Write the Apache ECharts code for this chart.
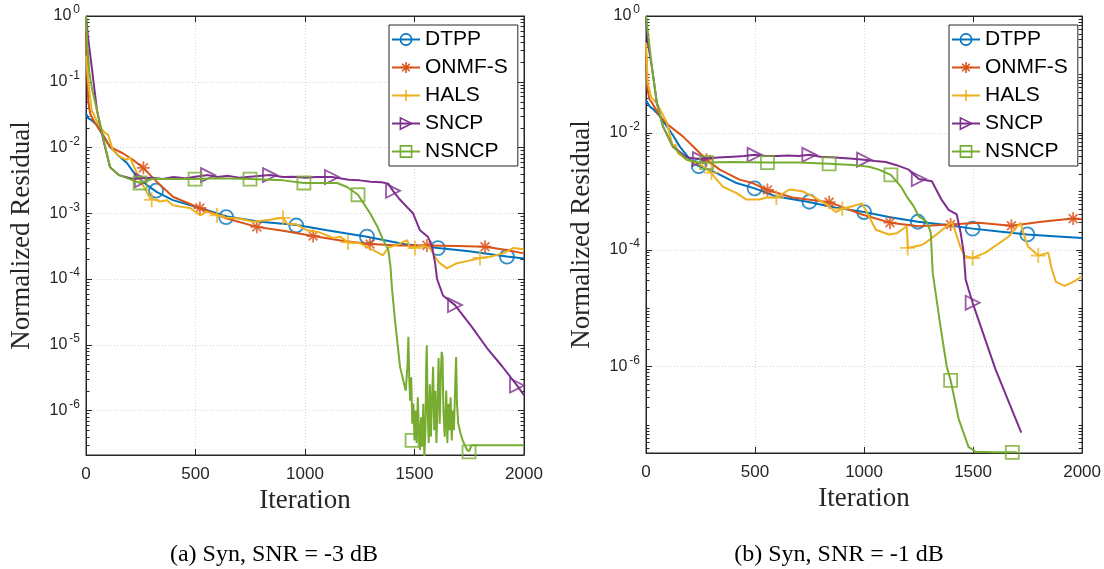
<!DOCTYPE html>
<html><head><meta charset="utf-8">
<script src="https://cdn.jsdelivr.net/npm/echarts/dist/echarts.min.js"></script>
<style>html,body{margin:0;padding:0;background:#fff}#c{width:1104px;height:569px}</style>
</head><body><div id="c"></div>
<script>
// ---------- DATA (iteration, normalized residual) ----------
const names = ['DTPP', 'ONMF-S', 'HALS', 'SNCP', 'NSNCP'];
const xTicks = [0, 500, 1000, 1500, 2000];
const yMajorA = [1, 1e-1, 1e-2, 1e-3, 1e-4, 1e-5, 1e-6];
const yMajorB = [1, 1e-2, 1e-4, 1e-6];
const captions = ['(a) Syn, SNR = -3 dB', '(b) Syn, SNR = -1 dB'];

// Panel (a)
const dtppA = [[0,0.033],[10,0.028],[25,0.026],[50,0.022],[80,0.0151],[110,0.0102],[150,0.0074],[187,0.0058],[233,0.00355],[278,0.00269],[324,0.00209],[397,0.00158],[520,0.0012],[644,0.00089],[794,0.00074],[963,0.00066],[1100,0.00055],[1283,0.00044],[1450,0.00034],[1607,0.000295],[1750,0.000263],[1922,0.000219],[2000,0.000204]];
const dtppAMk = [[320,0.0022],[640,0.00087],[960,0.00065],[1283,0.00044],[1607,0.000295],[1922,0.000219]];
const onmfA = [[0,0.6],[5,0.16],[10,0.05],[20,0.032],[40,0.024],[64,0.018],[110,0.0102],[170,0.0081],[220,0.0063],[262,0.0049],[323,0.003],[397,0.00178],[518,0.0012],[643,0.00083],[780,0.00062],[900,0.00054],[1037,0.00045],[1170,0.00038],[1297,0.00034],[1430,0.000324],[1557,0.000324],[1700,0.000316],[1822,0.00031],[1920,0.000275],[2000,0.000245]];
const onmfAMk = [[262,0.0049],[520,0.0012],[780,0.00062],[1037,0.00045],[1297,0.00034],[1557,0.000324],[1822,0.00031]];
const halsA = [[0,0.25],[10,0.1],[26,0.037],[50,0.025],[64,0.0204],[87,0.0166],[100,0.0158],[123,0.0091],[155,0.0072],[187,0.0065],[200,0.0071],[215,0.0055],[247,0.00316],[278,0.00209],[292,0.0017],[338,0.00151],[370,0.00158],[397,0.00132],[430,0.00126],[475,0.0012],[521,0.00093],[550,0.00105],[580,0.00098],[620,0.00089],[644,0.00085],[700,0.00083],[763,0.00074],[830,0.00079],[900,0.00085],[918,0.00069],[960,0.00068],[1009,0.00055],[1060,0.00052],[1128,0.00042],[1160,0.00044],[1196,0.00036],[1250,0.00035],[1311,0.000275],[1356,0.000229],[1380,0.0003],[1420,0.00033],[1466,0.00039],[1480,0.000295],[1540,0.000316],[1571,0.0003],[1600,0.0002],[1616,0.000174],[1648,0.000145],[1694,0.000174],[1750,0.00019],[1799,0.000209],[1850,0.000219],[1904,0.000245],[1950,0.000295],[2000,0.000282]];
const halsAMk = [[300,0.0016],[598,0.00093],[900,0.00085],[1196,0.00036],[1502,0.000295],[1799,0.000209]];
const sncpA = [[0,1],[10,0.45],[25,0.18],[50,0.037],[80,0.0126],[110,0.005],[150,0.0038],[215,0.00331],[255,0.00339],[300,0.00347],[350,0.00331],[400,0.00355],[450,0.00339],[500,0.0036],[557,0.0038],[600,0.00355],[650,0.0037],[700,0.00347],[750,0.0036],[840,0.0038],[900,0.00355],[950,0.0036],[1000,0.00347],[1050,0.00355],[1123,0.00355],[1200,0.00324],[1250,0.00316],[1300,0.00302],[1350,0.00295],[1380,0.00282],[1402,0.00219],[1430,0.00166],[1470,0.0012],[1493,0.001],[1525,0.00055],[1561,0.00044],[1580,0.000316],[1594,0.000174],[1603,1e-4],[1630,5.6e-5],[1685,4.0e-5],[1760,1.9e-5],[1831,8.9e-6],[1900,4.7e-6],[1968,2.4e-6],[2000,1.7e-6]];
const sncpAMk = [[255,0.00316],[557,0.0038],[840,0.0038],[1123,0.00355],[1402,0.00219],[1685,4.0e-5],[1968,2.4e-6]];
const nsncpA = [[0,1],[5,0.4],[15,0.14],[27,0.079],[50,0.037],[75,0.0158],[110,0.005],[150,0.0038],[215,0.00316],[247,0.00288],[300,0.00331],[400,0.00331],[498,0.00331],[600,0.00339],[749,0.00331],[900,0.00316],[995,0.00288],[1100,0.00288],[1146,0.00288],[1192,0.00251],[1242,0.00191],[1297,0.001],[1330,0.00063],[1357,0.00039],[1380,0.000282],[1390,0.000158],[1397,7.4e-5],[1410,2.5e-5],[1434,4.6e-6],[1460,2.0e-6],[1468,5.0e-6],[1472,1.32e-5],[1476,3.2e-6],[1480,1.41e-6],[1485,3.2e-6],[1490,6.3e-7],[1495,1.26e-6],[1500,3.5e-7],[1505,1e-6],[1510,3.2e-7],[1515,1.58e-6],[1520,5.0e-7],[1525,2.5e-7],[1530,7.9e-7],[1535,2.8e-7],[1540,1.26e-6],[1545,1.95e-7],[1550,5.0e-7],[1553,4.0e-6],[1556,9.8e-6],[1560,1e-6],[1565,3.2e-7],[1570,2.5e-6],[1575,4.0e-7],[1580,1.58e-6],[1585,4.6e-6],[1590,5.0e-7],[1595,2.0e-6],[1600,3.2e-7],[1605,1.26e-6],[1610,6.3e-6],[1615,6.3e-7],[1620,3.2e-6],[1624,7.8e-6],[1628,6.5e-6],[1632,1e-6],[1638,4.0e-7],[1645,2.0e-6],[1650,3.2e-7],[1655,1.26e-6],[1660,5.0e-7],[1665,1.58e-6],[1670,3.5e-7],[1675,1e-6],[1680,5.0e-7],[1686,2.5e-6],[1690,6.5e-6],[1694,1.26e-6],[1700,6.3e-7],[1710,4.5e-7],[1720,3.5e-7],[1740,2.5e-7],[1750,2.4e-7],[1760,2.95e-7],[2000,2.95e-7]];
const nsncpAMk = [[247,0.00288],[498,0.00331],[749,0.00331],[995,0.00288],[1242,0.00191],[1489,3.5e-7],[1749,2.35e-7]];

// Panel (b)
const dtppB = [[0,0.036],[18,0.028],[30,0.026],[60,0.02],[96,0.0129],[125,0.0089],[155,0.0058],[190,0.004],[215,0.00309],[242,0.00269],[280,0.0024],[324,0.00204],[415,0.00138],[498,0.00112],[598,0.00081],[740,0.00066],[872,0.00052],[1000,0.00044],[1120,0.00036],[1247,0.0003],[1380,0.000263],[1498,0.000229],[1620,0.000204],[1749,0.000182],[1870,0.00017],[2000,0.000158]];
const dtppBMk = [[242,0.00269],[498,0.00112],[749,0.00066],[1000,0.00044],[1247,0.0003],[1498,0.000229],[1749,0.000182]];
const onmfB = [[0,0.25],[5,0.063],[15,0.038],[30,0.0316],[64,0.019],[110,0.0129],[169,0.0087],[215,0.0059],[278,0.00347],[338,0.00234],[429,0.00158],[489,0.00138],[557,0.00105],[671,0.00078],[840,0.00065],[991,0.0004],[1119,0.00029],[1251,0.000251],[1397,0.000269],[1525,0.000288],[1676,0.000257],[1813,0.0003],[1959,0.00034],[2000,0.00033]];
const onmfBMk = [[278,0.00347],[557,0.00105],[840,0.00065],[1119,0.00029],[1397,0.000269],[1676,0.000257],[1959,0.00034]];
const halsB = [[0,0.35],[8,0.071],[25,0.04],[50,0.032],[96,0.0148],[123,0.0058],[135,0.0063],[146,0.0045],[187,0.00347],[260,0.00269],[292,0.00219],[301,0.00204],[352,0.0012],[415,0.00093],[461,0.00072],[521,0.00072],[552,0.00078],[598,0.00078],[658,0.00107],[717,0.001],[760,0.00083],[826,0.0006],[870,0.00044],[900,0.0005],[950,0.00056],[991,0.00062],[1023,0.00037],[1054,0.000219],[1114,0.000182],[1150,0.00019],[1196,0.000251],[1201,0.000107],[1265,0.00012],[1283,0.000132],[1342,0.000195],[1402,0.000295],[1416,0.000219],[1443,0.000107],[1460,7.9e-5],[1498,7.2e-5],[1557,8.9e-5],[1662,0.000166],[1717,0.000288],[1740,0.000148],[1753,0.000112],[1799,7.9e-5],[1845,8.9e-5],[1858,5.1e-5],[1880,2.8e-5],[1920,2.4e-5],[1960,2.8e-5],[2000,3.5e-5]];
const halsBMk = [[300,0.00209],[598,0.00078],[900,0.0005],[1200,0.000107],[1498,7.2e-5],[1799,7.9e-5]];
const sncpB = [[0,1],[10,0.32],[27,0.135],[50,0.032],[78,0.0129],[123,0.0058],[187,0.0038],[247,0.00355],[300,0.0037],[350,0.0038],[400,0.0039],[450,0.004],[498,0.0042],[550,0.004],[600,0.004],[650,0.0041],[700,0.004],[749,0.0042],[800,0.0039],[850,0.0038],[900,0.0037],[950,0.0036],[1000,0.00347],[1050,0.0033],[1100,0.00316],[1146,0.00282],[1205,0.00234],[1251,0.00162],[1311,0.00148],[1356,0.00071],[1388,0.00048],[1425,0.0004],[1443,0.000195],[1457,8.9e-5],[1466,3.1e-5],[1479,2.1e-5],[1498,1.23e-5],[1603,8.9e-7],[1721,7.4e-8]];
const sncpBMk = [[247,0.00355],[498,0.0042],[749,0.0042],[1000,0.00347],[1251,0.00162],[1498,1.23e-5]];
const nsncpB = [[0,1],[27,0.135],[50,0.032],[78,0.0129],[123,0.0058],[187,0.00347],[247,0.00309],[278,0.00309],[400,0.00316],[557,0.00309],[700,0.00309],[840,0.00295],[950,0.00282],[1023,0.00263],[1068,0.00234],[1123,0.00191],[1169,0.0012],[1196,0.00081],[1228,0.00055],[1251,0.00037],[1288,0.0003],[1306,0.000195],[1315,4e-5],[1350,5e-6],[1379,1e-6],[1397,5.8e-7],[1434,1.26e-7],[1479,4.2e-8],[1511,3.47e-8],[1600,3.39e-8],[1700,3.39e-8]];
const nsncpBMk = [[278,0.00309],[557,0.00309],[840,0.00295],[1123,0.00191],[1397,5.8e-7],[1680,3.39e-8]];

// ---------- STYLE ----------
const colors = ['#0072BD', '#D95319', '#EDB120', '#7E2F8E', '#77AC30'];
const symbols = ['circle', 'path://M5,0L5,10M0,5L10,5M1.6,1.6L8.4,8.4M8.4,1.6L1.6,8.4', 'path://M5,0L5,10M0,5L10,5', 'path://M0,0L10,5L0,10Z', 'rect'];
const mkSize = [14, 13, 15, 14, 13];
const SANS = 'Liberation Sans, Arial, sans-serif';
const SERIF = 'Liberation Serif, Times New Roman, serif';
const INK = '#262626';
const GRIDC = '#d4d4d4';

const panels = [
  { left: 86, top: 16, width: 438, height: 439, yMin: 2.1e-7, major: yMajorA,
    lines: [dtppA, onmfA, halsA, sncpA, nsncpA], marks: [dtppAMk, onmfAMk, halsAMk, sncpAMk, nsncpAMk],
    legendLeft: 389, capX: 274 },
  { left: 646, top: 16, width: 438, height: 437, yMin: 3.3e-8, major: yMajorB,
    lines: [dtppB, onmfB, halsB, sncpB, nsncpB], marks: [dtppBMk, onmfBMk, halsBMk, sncpBMk, nsncpBMk],
    legendLeft: 949, capX: 839 }
];

function tickList(yMin, major) {
  const out = [];
  const lo = Math.floor(Math.log10(yMin));
  for (let n = lo; n <= 0; n++) {
    for (let k = 1; k <= 9; k++) {
      const v = k * Math.pow(10, n);
      if (v < yMin * 0.999 || v > 1.0001) continue;
      const isMajor = major.some(m => Math.abs(Math.log10(m) - Math.log10(v)) < 1e-6);
      out.push([0, v, isMajor ? 1 : 0]);
    }
  }
  return out;
}

const option = {
  animation: false,
  backgroundColor: '#fff',
  grid: [], xAxis: [], yAxis: [], series: [], legend: [],
  graphic: []
};

panels.forEach((p, gi) => {
  option.grid.push({ left: p.left, top: p.top, width: p.width, height: p.height, containLabel: false,
    show: true, backgroundColor: 'rgba(0,0,0,0)', borderColor: INK, borderWidth: 1 });
  const xa = gi * 2, ya = gi * 2;
  option.xAxis.push({
    gridIndex: gi, type: 'value', min: xTicks[0], max: xTicks[xTicks.length - 1], interval: 500, position: 'bottom',
    name: 'Iteration', nameLocation: 'middle', nameGap: 28,
    nameTextStyle: { fontFamily: SERIF, fontSize: 27, color: INK },
    axisLine: { show: true, onZero: false, lineStyle: { color: INK, width: 1 } },
    axisTick: { show: true, inside: true, length: 6, lineStyle: { color: INK } },
    axisLabel: { fontFamily: SANS, fontSize: 17, color: INK, margin: 11, formatter: v => String(v) },
    splitLine: { show: true, lineStyle: { color: GRIDC, type: [1, 2], width: 1 } },
    z: 3
  });
  option.xAxis.push({
    gridIndex: gi, type: 'value', min: xTicks[0], max: xTicks[xTicks.length - 1], interval: 500, position: 'top',
    axisLine: { show: true, onZero: false, lineStyle: { color: INK, width: 1 } },
    axisTick: { show: true, inside: true, length: 6, lineStyle: { color: INK } },
    axisLabel: { show: false }, splitLine: { show: false }, z: 3
  });
  const majorExp = p.major.map(m => Math.round(Math.log10(m)));
  option.yAxis.push({
    gridIndex: gi, type: 'log', logBase: 10, min: p.yMin, max: 1, position: 'left',
    name: 'Normalized Residual', nameLocation: 'middle', nameGap: 51,
    nameTextStyle: { fontFamily: SERIF, fontSize: 27, color: INK },
    axisLine: { show: true, onZero: false, lineStyle: { color: INK, width: 1 } },
    axisTick: { show: false }, splitLine: { show: false },
    axisLabel: {
      fontFamily: SANS, fontSize: 16, color: INK, margin: 6,
      formatter: function (v) {
        const e = Math.log10(v), r = Math.round(e);
        if (Math.abs(e - r) > 1e-6 || majorExp.indexOf(r) < 0) return '';
        return '10{s|' + r + '}';
      },
      rich: { s: { fontSize: 12, fontFamily: SANS, color: INK, padding: [0, 0, 12, 2] } }
    },
    z: 3
  });
  option.yAxis.push({
    gridIndex: gi, type: 'log', logBase: 10, min: p.yMin, max: 1, position: 'right',
    axisLine: { show: true, onZero: false, lineStyle: { color: INK, width: 1 } },
    axisTick: { show: false }, axisLabel: { show: false }, splitLine: { show: false }, z: 3
  });

  // grid lines + major/minor ticks on the log axis
  option.series.push({
    type: 'custom', xAxisIndex: xa, yAxisIndex: ya, silent: true, z: 1, clip: false,
    data: tickList(p.yMin, p.major),
    renderItem: function (params, api) {
      const v = api.value(1), major = api.value(2);
      const a = api.coord([0, v]), b = api.coord([2000, v]);
      const y = Math.round(a[1]) + 0.5;
      const L = major ? 6 : 3.5;
      const kids = [];
      if (major && v < 0.999) kids.push({ type: 'line', shape: { x1: a[0] + 1, y1: y, x2: b[0] - 1, y2: y }, style: { stroke: GRIDC, lineWidth: 1, lineDash: [1, 2] } });
      kids.push({ type: 'line', shape: { x1: a[0], y1: y, x2: a[0] + L, y2: y }, style: { stroke: INK, lineWidth: 1 } });
      kids.push({ type: 'line', shape: { x1: b[0] - L, y1: y, x2: b[0], y2: y }, style: { stroke: INK, lineWidth: 1 } });
      return { type: 'group', children: kids };
    }
  });

  names.forEach((nm, i) => {
    option.series.push({
      name: nm, type: 'line', xAxisIndex: xa, yAxisIndex: ya, data: p.lines[i],
      showSymbol: false, symbol: symbols[i], symbolKeepAspect: true,
      lineStyle: { color: colors[i], width: 2 },
      itemStyle: { color: 'rgba(255,255,255,0)', borderColor: colors[i], borderWidth: 1.5 },
      z: 3 + i, silent: true, clip: true, smooth: false
    });
    option.series.push({
      name: nm + '-mk', type: 'scatter', xAxisIndex: xa, yAxisIndex: ya, data: p.marks[i],
      symbol: symbols[i], symbolSize: mkSize[i], symbolKeepAspect: true,
      itemStyle: { color: 'rgba(255,255,255,0)', borderColor: colors[i], borderWidth: 1.8 },
      z: 3 + i, silent: true, clip: false
    });
  });

  option.legend.push({
    left: p.legendLeft, top: 25, orient: 'vertical', selectedMode: false,
    backgroundColor: '#fff', borderColor: INK, borderWidth: 1,
    padding: [4, 10, 4, 2], itemGap: 7, itemWidth: 28, itemHeight: 14,
    textStyle: { fontFamily: SANS, fontSize: 21, color: '#000' },
    data: names.map((nm, i) => ({
      name: nm,
      lineStyle: { color: colors[i], width: 2 },
      itemStyle: { color: 'rgba(255,255,255,0)', borderColor: colors[i], borderWidth: 1.6 }
    }))
  });

  option.graphic.push({
    type: 'text', x: p.capX, y: 555, silent: true,
    style: { text: captions[gi], font: '24px ' + SERIF, fill: '#000', textAlign: 'center', textVerticalAlign: 'middle' }
  });
});

const chart = echarts.init(document.getElementById('c'), null, { renderer: 'canvas' });
chart.setOption(option);
</script></body></html>
